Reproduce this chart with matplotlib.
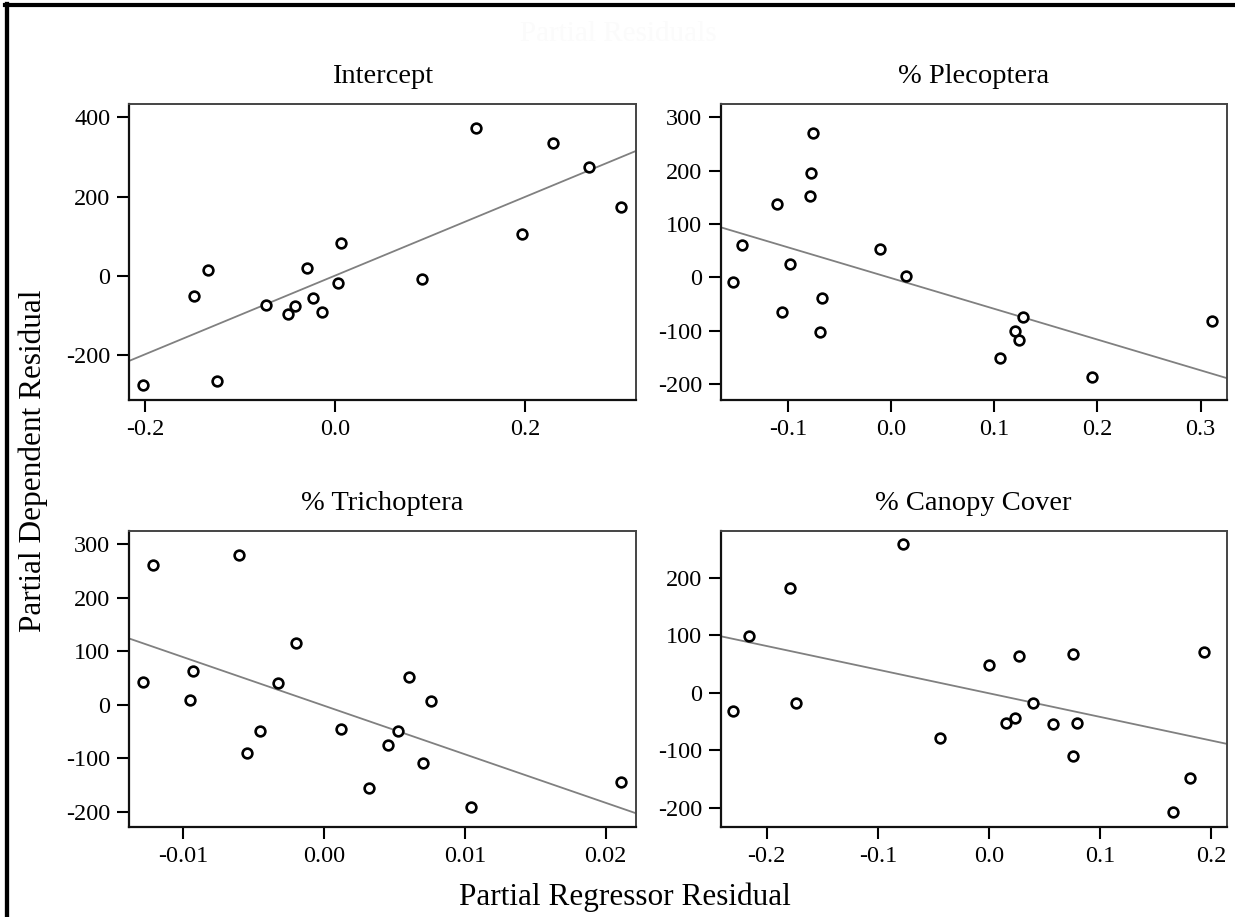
import numpy as np
import matplotlib.pyplot as plt
from matplotlib.lines import Line2D

plt.rcParams['font.family'] = ['Liberation Serif', 'DejaVu Serif']
plt.rcParams['axes.unicode_minus'] = False

W, H = 1235, 917

titles = ['Intercept', '% Plecoptera', '% Trichoptera', '% Canopy Cover']

# partial regression residuals, one pair of lists per term
intercept_x = [-0.2018, -0.1484, -0.134, -0.1239, -0.0726, -0.0498, -0.0418, -0.0291, -0.0235,
               -0.0140, 0.0035, 0.0063, 0.0912, 0.1484, 0.1965, 0.2295, 0.2667, 0.3011]
intercept_y = [-275, -51, 15, -265, -74, -96, -76, 20, -56,
               -92, -18, 82, -8, 372, 107, 336, 274, 173]

pleco_x = [-0.1528, -0.1441, -0.1102, -0.1059, -0.0979, -0.0788, -0.0775, -0.0759, -0.0673,
           -0.0689, -0.0110, 0.0146, 0.1056, 0.1198, 0.1243, 0.1275, 0.1947, 0.311]
pleco_y = [-8, 61, 138, -65, 25, 153, 195, 270, -39,
           -102, 54, 2, -150, -101, -117, -74, -187, -81]

tricho_x = [-0.01283, -0.01214, -0.00952, -0.00933, -0.00606, -0.00549, -0.00452, -0.00327, -0.00197,
            0.00121, 0.00322, 0.00455, 0.00523, 0.00601, 0.00762, 0.00705, 0.01044, 0.02112]
tricho_y = [42, 260, 8, 63, 280, -91, -49, 41, 115,
            -45, -155, -75, -49, 52, 6, -109, -191, -144]

canopy_x = [-0.2302, -0.2157, -0.1791, -0.1734, -0.0777, -0.0444, -0.0003, 0.0150, 0.0237,
            0.0267, 0.0399, 0.0573, 0.0753, 0.0753, 0.0792, 0.1659, 0.1812, 0.1932]
canopy_y = [-31, 99, 182, -18, 258, -79, 48, -52, -44,
            64, -18, -55, 67, -110, -53, -208, -149, 70]

# fitted partial slopes and offsets
fit_slopes = [993, -576, -9070, -411]
fit_offsets = [1, -1, -2, -1]

x_limits = [(-0.2168, 0.3165), (-0.165, 0.3253), (-0.01385, 0.02216), (-0.2415, 0.214)]
y_limits = [(-312.7, 433.6), (-229.4, 324.9), (-229.2, 324.9), (-234.2, 281.9)]

x_ticks = [[-0.2, 0.0, 0.2], [-0.1, 0.0, 0.1, 0.2, 0.3],
           [-0.01, 0.0, 0.01, 0.02], [-0.2, -0.1, 0.0, 0.1, 0.2]]
x_ticklabels = [['-0.2', '0.0', '0.2'], ['-0.1', '0.0', '0.1', '0.2', '0.3'],
                ['-0.01', '0.00', '0.01', '0.02'], ['-0.2', '-0.1', '0.0', '0.1', '0.2']]
y_ticks = [[-200, 0, 200, 400], [-200, -100, 0, 100, 200, 300],
           [-200, -100, 0, 100, 200, 300], [-200, -100, 0, 100, 200]]

xs = [intercept_x, pleco_x, tricho_x, canopy_x]
ys = [intercept_y, pleco_y, tricho_y, canopy_y]

# axes boxes in pixels: left, right, top, bottom
boxes = [(129, 636, 104, 400), (720.7, 1226.7, 104, 400),
         (129, 636, 530.7, 827.3), (720.7, 1226.7, 530.7, 827.3)]

fig = plt.figure(figsize=(W / 100, H / 100), dpi=100)

for i in range(4):
    l, r, t, b = boxes[i]
    ax = fig.add_axes([l / W, 1 - b / H, (r - l) / W, (b - t) / H])
    ax.axline((0, fit_offsets[i]), slope=fit_slopes[i], color='#808080', lw=1.3, zorder=1)
    ax.plot(xs[i], ys[i], 'o', ms=7, mfc='white', mec='black', mew=1.9, zorder=2)
    ax.set_xlim(*x_limits[i])
    ax.set_ylim(*y_limits[i])
    ax.set_xticks(x_ticks[i])
    ax.set_xticklabels(x_ticklabels[i])
    ax.set_yticks(y_ticks[i])
    ax.set_yticklabels([str(v) for v in y_ticks[i]])
    ax.tick_params(direction='out', length=8.5, width=1.5, labelsize=17.5, pad=5, color='black')
    for side in ['left', 'bottom']:
        ax.spines[side].set_linewidth(1.6)
        ax.spines[side].set_color('#111111')
    for side in ['top', 'right']:
        ax.spines[side].set_linewidth(1.4)
        ax.spines[side].set_color('#444444')
    ax.set_title(titles[i], fontsize=20.5, pad=15)

fig.text(625 / W, 1 - 897 / H, 'Partial Regressor Residual', fontsize=22.5, ha='center', va='center')
fig.text(33 / W, 1 - 461 / H, 'Partial Dependent Residual', fontsize=22.5, ha='center', va='center',
         rotation=90)
fig.text(618 / W, 1 - 34 / H, 'Partial Residuals', fontsize=21, ha='center', va='center',
         color='#fbfbfb')

# frame lines along the top and left edge
fig.add_artist(Line2D([5 / W, 1], [1 - 5.3 / H, 1 - 5.3 / H], color='black', lw=3))
fig.add_artist(Line2D([7 / W, 7 / W], [0, 1 - 3.5 / H], color='black', lw=3.1))

fig.savefig('out.png', dpi=100)
